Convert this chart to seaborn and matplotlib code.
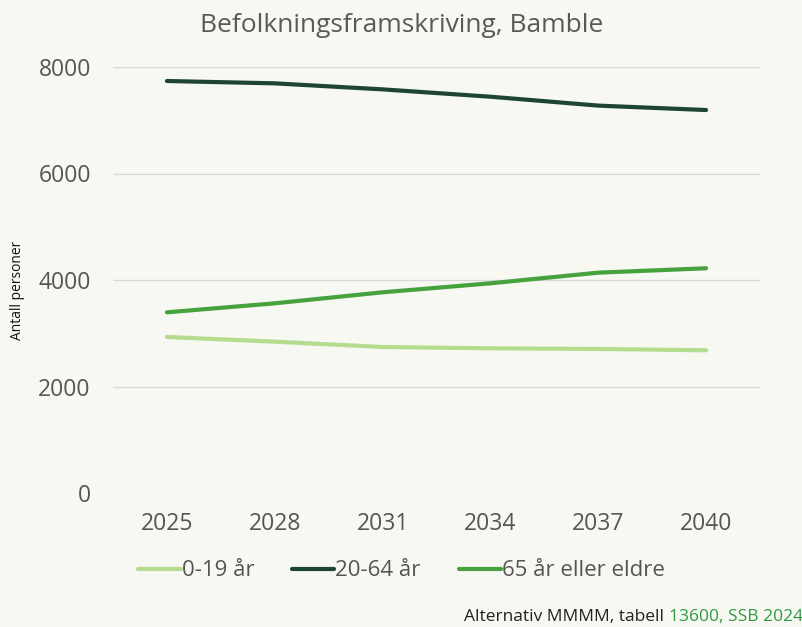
import pandas as pd
import seaborn as sns
import matplotlib.pyplot as plt

years = [2025, 2028, 2031, 2034, 2037, 2040]
age_0_19 = [2930, 2842, 2742, 2717, 2705, 2680]
age_20_64 = [7737, 7693, 7580, 7442, 7275, 7192]
age_65 = [3393, 3562, 3769, 3938, 4138, 4220]
groups = ['0-19 år', '20-64 år', '65 år eller eldre']
colors = ['#b3dc8e', '#1d4536', '#45a23d']
ticks_y = [0, 2000, 4000, 6000, 8000]

df = pd.DataFrame({'År': years * 3,
                   'Antall': age_0_19 + age_20_64 + age_65,
                   'Gruppe': [g for g in groups for _ in years]})

bg = '#f7f8f2'
sns.set_theme(style='white')
plt.rcParams['font.family'] = ['Open Sans', 'DejaVu Sans']

fig = plt.figure(figsize=(8.03, 6.27), dpi=100, facecolor=bg)
ax = fig.add_axes([113 / 803, 1 - 493 / 627, (760 - 113) / 803, (493 - 67) / 627])
ax.set_facecolor(bg)

sns.lineplot(data=df, x='År', y='Antall', hue='Gruppe', palette=colors,
             linewidth=3, ax=ax, legend=False)

ax.set_xlim(2023.5, 2041.5)
ax.set_ylim(0, 8000)
ax.set_xticks(years)
ax.set_yticks(ticks_y)
ax.tick_params(axis='both', labelsize=16.5, colors='#555555', length=0)
ax.tick_params(axis='x', pad=14)
ax.tick_params(axis='y', pad=16)
ax.grid(axis='y', color='#d9d9d9', linewidth=1)
ax.set_axisbelow(True)
for s in ax.spines.values():
    s.set_visible(False)
ax.set_xlabel('')
ax.set_ylabel('')
fig.text(18 / 803, 1 - 290 / 627, 'Antall personer', rotation=90,
         ha='center', va='center', fontsize=10, color='#111111')

fig.text(0.5, 1 - 25 / 627, 'Befolkningsframskriving, Bamble',
         ha='center', va='center', fontsize=19, color='#595959')

handles = [plt.Line2D([], [], color=c, linewidth=3) for c in colors]
fig.legend(handles, groups, loc='center', bbox_to_anchor=(0.5, 1 - 571 / 627),
           ncol=3, frameon=False, fontsize=16, handlelength=1.9,
           handletextpad=0.05, columnspacing=1.7, labelcolor='#555555')

# kilde nede til høyre
green = fig.text(1.0, 1 - 617 / 627, '13600, SSB 2024', ha='right', va='center',
                 fontsize=12.5, color='#2e9a3e')
fig.canvas.draw()
bb = green.get_window_extent()
fig.text(bb.x0 / fig.bbox.width, 1 - 617 / 627, 'Alternativ MMMM, tabell ',
         ha='right', va='center', fontsize=12.5, color='#222222')

fig.savefig('out.png', dpi=100, facecolor=bg)
